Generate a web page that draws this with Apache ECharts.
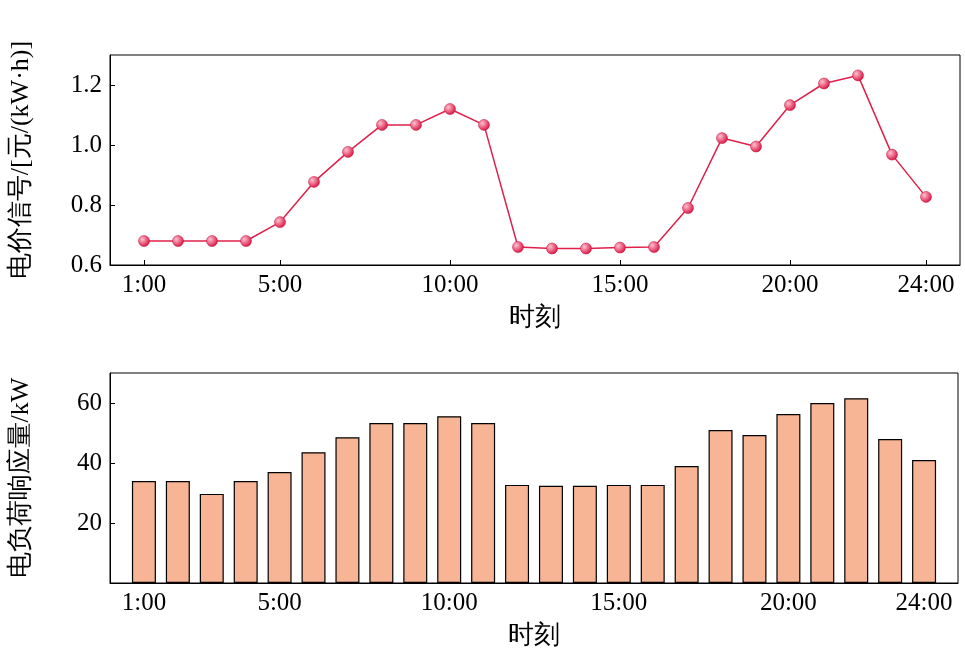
<!DOCTYPE html>
<html><head><meta charset="utf-8">
<script src="https://cdn.jsdelivr.net/npm/echarts@6/dist/echarts.min.js"></script>
<style>html,body{margin:0;padding:0;background:#fff}#c{width:965px;height:656px}</style>
</head><body><div id="c"></div>
<script>
const hours = [1,2,3,4,5,6,7,8,9,10,11,12,13,14,15,16,17,18,19,20,21,22,23,24];
const price = [0.68,0.68,0.68,0.68,0.743,0.877,0.977,1.067,1.067,1.12,1.067,0.66,0.655,0.655,0.658,0.66,0.79,1.023,0.995,1.133,1.205,1.232,0.968,0.827];
const load = [34,34,29.7,34,37,43.6,48.6,53.3,53.3,55.6,53.3,32.7,32.4,32.4,32.7,32.7,39,51,49.3,56.3,60,61.6,48,41];
const tickHours = [1,5,10,15,20,24];
const F = 'Liberation Serif, Times New Roman, serif';
const xa = (gi) => ({
  type:'value', gridIndex:gi, min:0, max:25, name:'时刻', nameLocation:'middle', nameGap:40,
  nameTextStyle:{fontFamily:F,fontSize:26,color:'#000'},
  axisLine:{lineStyle:{color:'#000'}}, splitLine:{show:false},
  axisTick:{inside:true,length:5,customValues:tickHours,lineStyle:{color:'#000'}},
  axisLabel:{customValues:tickHours,formatter:v=>v+':00',fontFamily:F,fontSize:25,color:'#000',margin:8}
});
const chart = echarts.init(document.getElementById('c'));
chart.setOption({
  animation:false,
  grid:[
    {left:105,right:5,top:55,height:210,show:true,borderColor:'#000',borderWidth:1},
    {left:105,right:7,top:373,height:210,show:true,borderColor:'#000',borderWidth:1}
  ],
  xAxis:[xa(0),xa(1)],
  yAxis:[
    {type:'value',gridIndex:0,min:0.6,max:1.3,interval:0.2,name:'电价信号/[元/(kW·h)]',nameLocation:'middle',nameGap:76,
     nameTextStyle:{fontFamily:F,fontSize:26,color:'#000'},
     axisLine:{show:true,lineStyle:{color:'#000'}},splitLine:{show:false},
     axisTick:{inside:true,length:5,lineStyle:{color:'#000'}},
     axisLabel:{showMaxLabel:false,formatter:v=>v.toFixed(1),fontFamily:F,fontSize:25,color:'#000'}},
    {type:'value',gridIndex:1,min:0,max:70,interval:20,name:'电负荷响应量/kW',nameLocation:'middle',nameGap:76,
     nameTextStyle:{fontFamily:F,fontSize:26,color:'#000'},
     axisLine:{show:true,lineStyle:{color:'#000'}},splitLine:{show:false},
     axisTick:{inside:true,length:5,lineStyle:{color:'#000'}},
     axisLabel:{showMaxLabel:false,formatter:v=>v===0?'':String(v),fontFamily:F,fontSize:25,color:'#000'}}
  ],
  series:[
    {type:'line',xAxisIndex:0,yAxisIndex:0,data:hours.map((h,i)=>[h,price[i]]),
     symbol:'circle',symbolSize:11,lineStyle:{color:'#e0204a',width:1.5},
     itemStyle:{color:new echarts.graphic.RadialGradient(0.35,0.35,0.7,[{offset:0,color:'#ffc0d0'},{offset:1,color:'#d8103e'}]),borderColor:'#c0103a',borderWidth:0.5}},
    {type:'bar',xAxisIndex:1,yAxisIndex:1,data:hours.map((h,i)=>[h,load[i]]),barWidth:24,
     itemStyle:{color:'#f8b595',borderColor:'#000',borderWidth:1.2}}
  ]
});
</script></body></html>
